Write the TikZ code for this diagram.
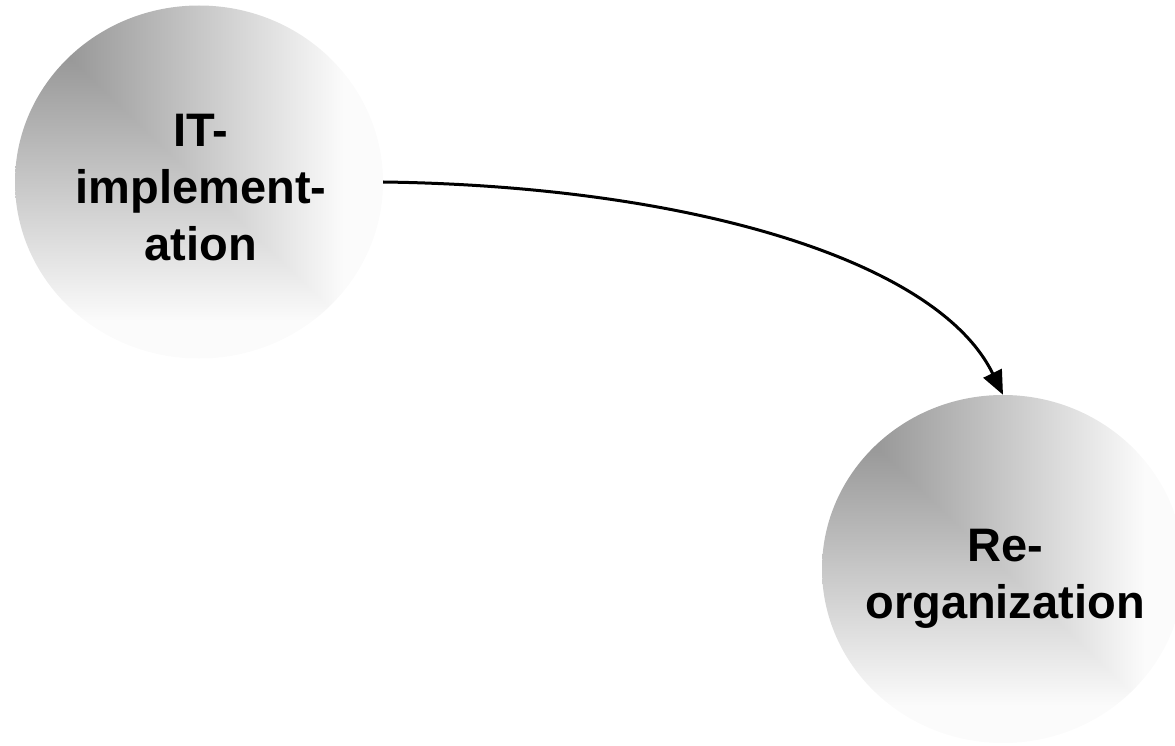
\documentclass[tikz,border=0pt]{standalone}
\usepackage{fontspec}
\setmainfont{Liberation Sans}
\usetikzlibrary{shapes.geometric,arrows.meta}

% Grey fill that lightens away from the top-left corner (square "from corner" fade),
% stopping just short of white so the rim stays faintly visible
\pgfdeclarefunctionalshading{cornerfade}{\pgfpoint{0bp}{0bp}}{\pgfpoint{100bp}{100bp}}{}{
 75 exch sub 50 div exch 25 sub 50 div 2 copy lt {exch} if pop
 dup 0 lt {pop 0} if dup 1 gt {pop 1} if
 0.52 mul 0.52 add dup 0.985 gt {pop 0.985} if dup dup}

\tikzset{
  blob/.style={ellipse, inner sep=0pt, draw=none, shading=cornerfade},
  lbl/.style={align=center, inner sep=0pt, font=\fontsize{47}{57}\selectfont\bfseries},
  link/.style={line width=3pt, -{Triangle[length=24pt,width=20pt]}}
}

\begin{document}
\begin{tikzpicture}[x=1pt,y=-1pt]
\useasboundingbox (0,0) rectangle (1175,746);

\node[blob, minimum width=368pt, minimum height=353pt] (it) at (199,182) {};
\node[blob, minimum width=362pt, minimum height=348pt] (re) at (1003,569) {};

\node[lbl] (itlabel) at (201,188) {IT-\\implement-\\ation};
\node[lbl] (relabel) at (1005,579) {Re-\\organization};

\draw[link] (it.east) .. controls (685,186) and (937,259) .. (re.north);
\end{tikzpicture}
\end{document}
